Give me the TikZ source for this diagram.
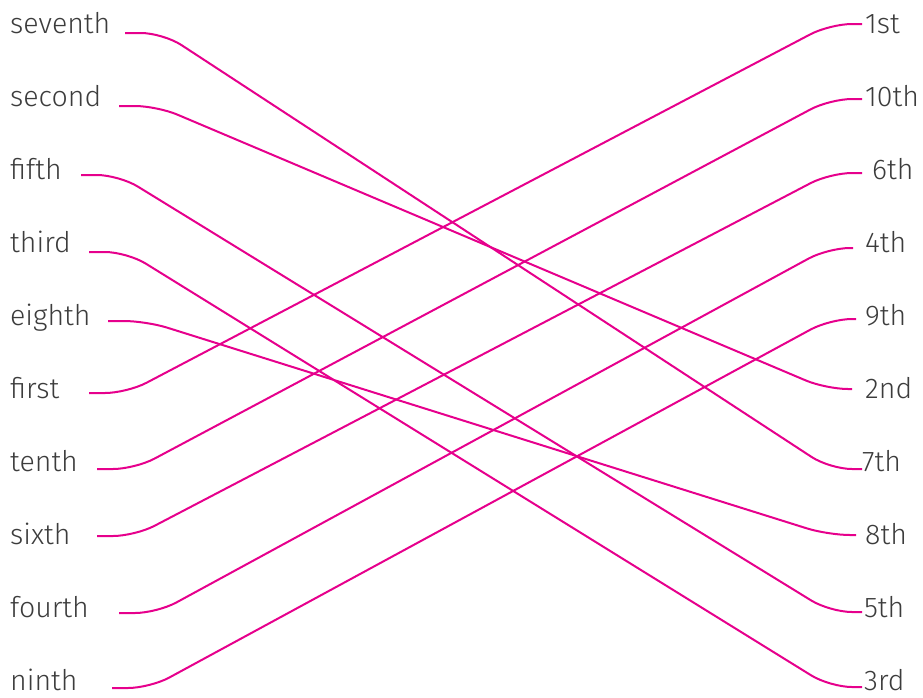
\documentclass[tikz,border=0pt]{standalone}
\usepackage{fontspec}
\setmainfont{Fira Sans}[UprightFont=* Light]
\usepackage{tikz}
\usetikzlibrary{calc}

\definecolor{wordgray}{RGB}{60,60,60}
\definecolor{linkpink}{RGB}{230,0,140}

\begin{document}
\begin{tikzpicture}[
    x=1pt, y=-1pt,
    word/.style={anchor=base west, text=wordgray, inner sep=0pt, font=\fontsize{28.5}{32}\selectfont},
    link/.style={draw=linkpink, line width=2pt, rounded corners=22pt}
]
\useasboundingbox (0,0) rectangle (923,697);

% Left words
\node[word] (seventh) at (10,33) {seventh};
\node[word] (second) at (10,106) {second};
\node[word] (fifth) at (10,179) {fifth};
\node[word] (third) at (10,252) {third};
\node[word] (eighth) at (10,325) {eighth};
\node[word] (first) at (10,398) {first};
\node[word] (tenth) at (10,471) {tenth};
\node[word] (sixth) at (10,544) {sixth};
\node[word] (fourth) at (10,617) {fourth};
\node[word] (ninth) at (10,690) {ninth};

% Right ordinals
\node[word] (o1) at (865,33) {1st};
\node[word] (o10) at (865,106) {10th};
\node[word] (o6) at (872,179) {6th};
\node[word] (o4) at (865,252) {4th};
\node[word] (o9) at (865,325) {9th};
\node[word] (o2) at (865,398) {2nd};
\node[word] (o7) at (862,471) {7th};
\node[word] (o8) at (865,544) {8th};
\node[word] (o5) at (864,617) {5th};
\node[word] (o3) at (864,690) {3rd};

% Line ends
\coordinate (seventh-out) at (125,33);
\coordinate (second-out) at (119,106);
\coordinate (fifth-out) at (81,175);
\coordinate (third-out) at (89,252);
\coordinate (eighth-out) at (108,321);
\coordinate (first-out) at (89,393);
\coordinate (tenth-out) at (97,469);
\coordinate (sixth-out) at (97,536);
\coordinate (fourth-out) at (119,613);
\coordinate (ninth-out) at (112,688);

\coordinate (o1-in) at (862,24);
\coordinate (o10-in) at (862,99);
\coordinate (o6-in) at (862,173);
\coordinate (o4-in) at (853,248);
\coordinate (o9-in) at (856,319);
\coordinate (o2-in) at (852,389);
\coordinate (o7-in) at (862,469);
\coordinate (o8-in) at (856,535);
\coordinate (o5-in) at (862,612);
\coordinate (o3-in) at (862,687);

% Links
\draw[link] (seventh-out) -- ++(38,0) -- ($(o7-in)+(-32,0)$) -- (o7-in);
\draw[link] (second-out) -- ++(38,0) -- ($(o2-in)+(-26,0)$) -- (o2-in);
\draw[link] (fifth-out) -- ++(38,0) -- ($(o5-in)+(-32,0)$) -- (o5-in);
\draw[link] (third-out) -- ++(38,0) -- ($(o3-in)+(-32,0)$) -- (o3-in);
\draw[link] (eighth-out) -- ++(38,0) -- ($(o8-in)+(-28,0)$) -- (o8-in);
\draw[link] (first-out) -- ++(38,0) -- ($(o1-in)+(-32,0)$) -- (o1-in);
\draw[link] (tenth-out) -- ++(38,0) -- ($(o10-in)+(-32,0)$) -- (o10-in);
\draw[link] (sixth-out) -- ++(38,0) -- ($(o6-in)+(-32,0)$) -- (o6-in);
\draw[link] (fourth-out) -- ++(38,0) -- ($(o4-in)+(-25,0)$) -- (o4-in);
\draw[link] (ninth-out) -- ++(38,0) -- ($(o9-in)+(-26,0)$) -- (o9-in);

\end{tikzpicture}
\end{document}
